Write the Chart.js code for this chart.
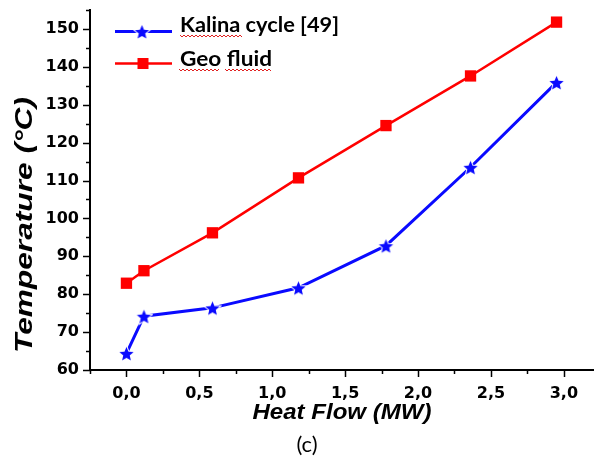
<!DOCTYPE html>
<html>
<head>
<meta charset="utf-8">
<script src="https://cdn.jsdelivr.net/npm/chart.js@4.4.1/dist/chart.umd.min.js"></script>
<style>
  html, body { margin: 0; padding: 0; background: #fff; }
  #wrap { position: relative; width: 594px; height: 459px; }
</style>
</head>
<body>
<div id="wrap"><canvas id="chart" width="594" height="459"></canvas></div>
<script>
// === Data ===
const heatFlow = [0, 0.12, 0.59, 1.18, 1.78, 2.36, 2.95];
const kalinaTemp = [64.4, 74.2, 76.4, 81.7, 92.8, 113.5, 135.9];
const geoFluidTemp = [82.9, 86.2, 96.2, 110.7, 124.5, 137.6, 151.8];
const seriesNames = ["Kalina cycle [49]", "Geo fluid"];
const xTitle = "Heat Flow (MW)";
const yTitle = "Temperature (°C)";
const caption = "(c)";

const BLUE = "#0a0aff";
const RED = "#ff0000";

// filled five-point star with a thin white halo
function makeStar(r, color) {
  const c = document.createElement("canvas");
  const s = Math.ceil(r * 2 + 4);
  c.width = s; c.height = s;
  const g = c.getContext("2d");
  g.translate(s / 2, s / 2 + 1);
  g.beginPath();
  for (let i = 0; i < 10; i++) {
    const rad = i % 2 === 0 ? r : r * 0.45;
    const a = -Math.PI / 2 + i * Math.PI / 5;
    g.lineTo(Math.cos(a) * rad, Math.sin(a) * rad);
  }
  g.closePath();
  g.lineWidth = 2;
  g.strokeStyle = "#fff";
  g.stroke();
  g.fillStyle = color;
  g.fill();
  return c;
}
const star = makeStar(7.5, BLUE);

const toPoints = ys => ys.map((y, i) => ({ x: heatFlow[i], y }));

function squiggle(ctx, x0, x1, y) {
  ctx.save();
  ctx.strokeStyle = "#e02020";
  ctx.lineWidth = 1;
  ctx.beginPath();
  for (let x = x0, k = 0; x <= x1; x += 2, k++) {
    const yy = y + (k % 2 === 0 ? -1 : 1);
    if (k === 0) ctx.moveTo(x, yy); else ctx.lineTo(x, yy);
  }
  ctx.stroke();
  ctx.restore();
}

// text stretched along its run to a given width (the source figure is stretched)
function fitText(ctx, text, x, y, width, align) {
  const w = ctx.measureText(text).width;
  ctx.save();
  ctx.translate(x, y);
  ctx.scale(width / w, 1);
  ctx.textAlign = align;
  ctx.fillText(text, 0, 0);
  ctx.restore();
}

// ticks, titles and legend drawn on top of the library's scales
const decor = {
  id: "decor",
  afterDraw(chart) {
    const ctx = chart.ctx;
    const xs = chart.scales.x, ys = chart.scales.y;
    const area = chart.chartArea;
    ctx.save();
    ctx.strokeStyle = "#000";
    ctx.lineWidth = 1.5;
    // y ticks: major every 10, minor every 5
    for (let v = 60; v <= 155; v += 5) {
      const p = Math.round(ys.getPixelForValue(v)) + 0.5;
      const len = v % 10 === 0 ? 7 : 4;
      ctx.beginPath(); ctx.moveTo(area.left, p); ctx.lineTo(area.left - len, p); ctx.stroke();
    }
    // x ticks: major every 0.5, minor every 0.25
    for (let v = -0.25; v <= 3.2; v += 0.25) {
      const p = Math.round(xs.getPixelForValue(v)) + 0.5;
      const major = Math.abs(v * 2 - Math.round(v * 2)) < 1e-6;
      const len = major ? 7 : 4;
      ctx.beginPath(); ctx.moveTo(p, area.bottom); ctx.lineTo(p, area.bottom + len); ctx.stroke();
    }

    // axis titles
    ctx.fillStyle = "#000";
    ctx.textBaseline = "alphabetic";
    ctx.font = "italic bold 22px 'Liberation Sans'";
    fitText(ctx, xTitle, 342, 419, 179, "center");
    ctx.save();
    ctx.translate(32, 225);
    ctx.rotate(-Math.PI / 2);
    ctx.font = "italic bold 23px 'Liberation Sans'";
    fitText(ctx, yTitle, 0, 0, 256, "center");
    ctx.restore();
    ctx.font = "22px Lato";
    ctx.textAlign = "center";
    ctx.fillText(caption, 307, 452);

    // legend
    ctx.lineWidth = 3;
    ctx.strokeStyle = BLUE;
    ctx.beginPath(); ctx.moveTo(115, 31.5); ctx.lineTo(172, 31.5); ctx.stroke();
    ctx.drawImage(star, 142 - star.width / 2, 31.5 - star.height / 2);
    ctx.lineWidth = 2.5;
    ctx.strokeStyle = RED;
    ctx.beginPath(); ctx.moveTo(115, 63.5); ctx.lineTo(172, 63.5); ctx.stroke();
    ctx.fillStyle = RED;
    ctx.fillRect(137.5, 58, 11, 11);

    ctx.fillStyle = "#000";
    ctx.font = "bold 20px Lato";
    fitText(ctx, seriesNames[0], 180, 32, 159, "left");
    fitText(ctx, seriesNames[1], 180, 66, 92, "left");
    squiggle(ctx, 180, 243, 36);
    squiggle(ctx, 179, 219, 70);
    squiggle(ctx, 225, 272, 70);
    ctx.restore();
  }
};

new Chart(document.getElementById("chart").getContext("2d"), {
  type: "scatter",
  data: {
    datasets: [
      {
        label: seriesNames[0],
        data: toPoints(kalinaTemp),
        showLine: true,
        borderColor: BLUE,
        borderWidth: 3,
        pointStyle: star,
        pointRadius: 7
      },
      {
        label: seriesNames[1],
        data: toPoints(geoFluidTemp),
        showLine: true,
        borderColor: RED,
        backgroundColor: RED,
        borderWidth: 2.5,
        pointStyle: "rect",
        pointRadius: 8,
        pointBorderWidth: 0
      }
    ]
  },
  options: {
    responsive: false,
    devicePixelRatio: 1,
    animation: false,
    layout: { autoPadding: false, padding: { left: 0, right: 1, top: 10, bottom: 0 } },
    plugins: { legend: { display: false }, tooltip: { enabled: false } },
    scales: {
      x: {
        type: "linear",
        min: -0.25,
        max: 3.2,
        afterFit: s => { s.height = 89; s.paddingLeft = 0; s.paddingRight = 0; },
        grid: { drawOnChartArea: false, drawTicks: false },
        border: { color: "#000", width: 2 },
        ticks: {
          stepSize: 0.5,
          includeBounds: false,
          padding: 14,
          color: "#000",
          font: { family: "'DejaVu Sans'", weight: "bold", size: 16 },
          callback: v => v.toFixed(1).replace(".", ",")
        }
      },
      y: {
        min: 60,
        max: 155,
        afterFit: s => { s.width = 90; s.paddingTop = 0; s.paddingBottom = 0; },
        grid: { drawOnChartArea: false, drawTicks: false },
        border: { color: "#000", width: 2 },
        ticks: {
          stepSize: 10,
          includeBounds: false,
          padding: 11,
          color: "#000",
          font: { family: "'DejaVu Sans'", weight: "bold", size: 16 }
        }
      }
    }
  },
  plugins: [decor]
});
</script>
</body>
</html>
